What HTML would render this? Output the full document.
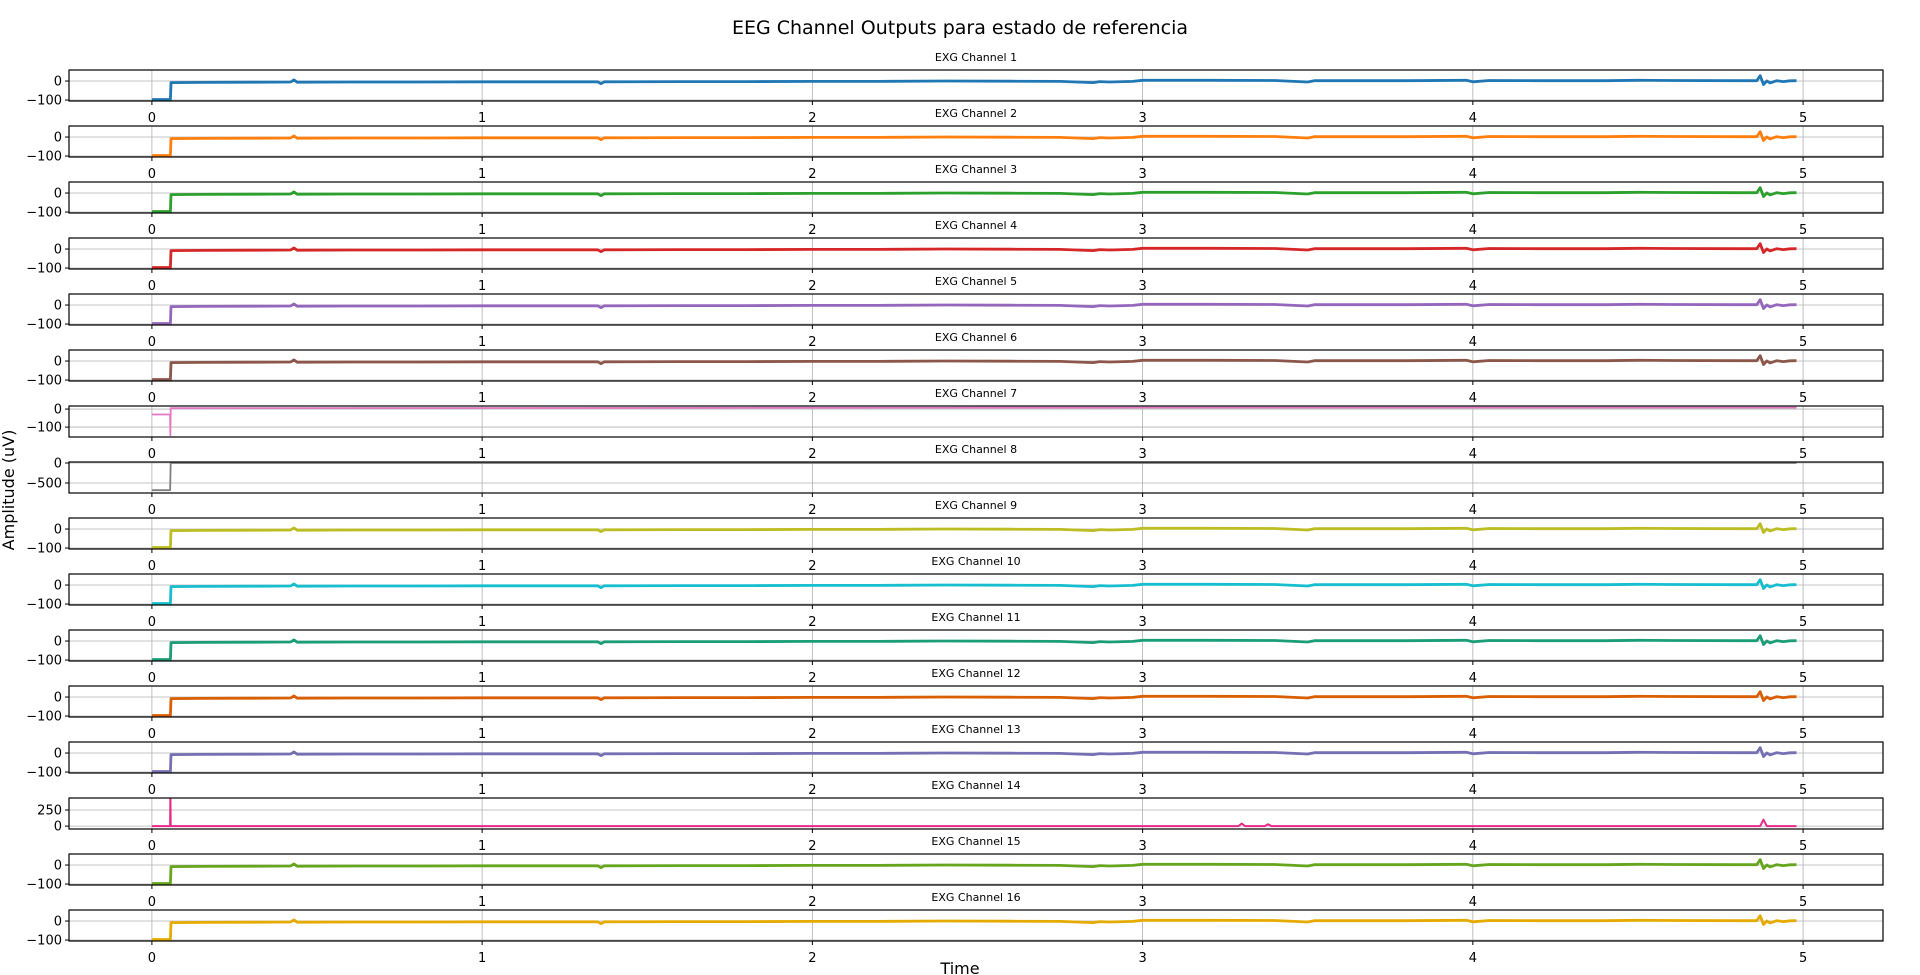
<!DOCTYPE html>
<html><head><meta charset="utf-8"><style>
html,body{margin:0;padding:0;background:#fff;}
svg{display:block;font-family:"DejaVu Sans","Liberation Sans",sans-serif;}
</style></head><body>
<svg id="fig" width="1920" height="975" viewBox="0 0 1920 975">
<text x="960" y="34" font-size="19" text-anchor="middle">EEG Channel Outputs para estado de referencia</text>
<text x="960" y="974" font-size="16" text-anchor="middle">Time</text>
<text transform="translate(14,490) rotate(-90)" font-size="16" text-anchor="middle">Amplitude (uV)</text>
</svg>
<script>
const channelNames = ["EXG Channel 1","EXG Channel 2","EXG Channel 3","EXG Channel 4","EXG Channel 5","EXG Channel 6","EXG Channel 7","EXG Channel 8","EXG Channel 9","EXG Channel 10","EXG Channel 11","EXG Channel 12","EXG Channel 13","EXG Channel 14","EXG Channel 15","EXG Channel 16"];
const channelColors = ["#1f77b4","#ff7f0e","#2ca02c","#d62728","#9467bd","#8c564b","#e377c2","#7f7f7f","#bcbd22","#17becf","#1b9e77","#d95f02","#7570b3","#e7298a","#66a61e","#e6ab02"];
const xTicks = [0,1,2,3,4,5];
const baseTimes = [0,0.056,0.058,0.15,0.3,0.42,0.43,0.44,0.6,0.8,1.0,1.2,1.35,1.36,1.37,1.6,1.8,2.0,2.2,2.4,2.6,2.75,2.85,2.87,2.9,2.97,3.0,3.2,3.4,3.5,3.52,3.6,3.8,3.98,4.0,4.05,4.2,4.4,4.5,4.6,4.8,4.86,4.87,4.88,4.89,4.9,4.92,4.94,4.96,4.98];
const baseValues = [-97,-97,-8,-7,-6,-5,6,-6,-5,-5,-4,-4,-4,-14,-4,-3,-3,-2,-2,0,-1,-2,-8,-3,-5,-2,4,4,3,-5,2,2,2,4,-4,3,2,2,4,3,2,2,28,-18,0,-10,2,-3,1,2];
const ch7Times = [0,0.055,0.056,0.057,0.058,3.0,4.98];
const ch7Values = [-30,-30,-145,5,5,8,8];
const ch8Times = [0,0.055,0.057,4.98];
const ch8Values = [-680,-680,0,0];
const ch14Times = [0,0.055,0.056,0.057,0.058,3.29,3.3,3.31,3.37,3.38,3.39,4.87,4.88,4.89,4.98];
const ch14Values = [0,0,450,0,0,0,40,0,0,30,0,0,100,0,0];
const genericTicks = [-100,0];
const ch7Ticks = [-100,0];
const ch8Ticks = [-500,0];
const ch14Ticks = [0,250];

const svg = document.getElementById('fig');
const NS = 'http://www.w3.org/2000/svg';
const L = 69, R = 1883, T0 = 70, PITCH = 56, H = 31;
const XMIN = -0.251, XMAX = 5.242;
function xs(t){ return L + (t - XMIN) / (XMAX - XMIN) * (R - L); }
function mk(tag, attrs){ const e = document.createElementNS(NS, tag); for (const k in attrs) e.setAttribute(k, attrs[k]); svg.appendChild(e); return e; }

for (let i = 0; i < 16; i++) {
  const top = T0 + PITCH * i, bot = top + H;
  let times = baseTimes, vals = baseValues, ticks = genericTicks, ymin = -105, ymax = 58, sw = 2.8;
  if (i === 6) { times = ch7Times; vals = ch7Values; ticks = ch7Ticks; ymin = -155; ymax = 17; sw = 1.8; }
  if (i === 7) { times = ch8Times; vals = ch8Values; ticks = ch8Ticks; ymin = -750; ymax = 25; sw = 1.8; }
  if (i === 13) { times = ch14Times; vals = ch14Values; ticks = ch14Ticks; ymin = -45; ymax = 437; sw = 2; }
  const ys = v => bot - (v - ymin) / (ymax - ymin) * H;
  const clip = mk('clipPath', {id: 'c' + i});
  const cr = document.createElementNS(NS, 'rect');
  cr.setAttribute('x', L); cr.setAttribute('y', top); cr.setAttribute('width', R - L); cr.setAttribute('height', H);
  clip.appendChild(cr);
  xTicks.forEach(t => {
    const g = mk('line', {x1: xs(t), x2: xs(t), y1: top, y2: bot, stroke: '#b0b0b0', 'stroke-width': 0.8});
    
    
    const tk = mk('line', {x1: xs(t), x2: xs(t), y1: bot, y2: bot + 4, stroke: '#000', 'stroke-width': 1});
    
    
    const lb = mk('text', {x: xs(t), y: bot + 21, 'font-size': 13, 'text-anchor': 'middle'});
    lb.textContent = t;
    
    
  });
  ticks.forEach(v => {
    const g = mk('line', {x1: L, x2: R, y1: ys(v), y2: ys(v), stroke: '#b0b0b0', 'stroke-width': 0.8});
    
    
    const tk = mk('line', {x1: L - 4, x2: L, y1: ys(v), y2: ys(v), stroke: '#000', 'stroke-width': 1});
    
    
    const lb = mk('text', {x: L - 7, y: ys(v) + 4.5, 'font-size': 13, 'text-anchor': 'end'});
    lb.textContent = v < 0 ? '\u2212' + Math.abs(v) : String(v);
    
    
  });
  let d = '';
  times.forEach((t, k) => { d += (k ? 'L' : 'M') + xs(t).toFixed(1) + ',' + ys(vals[k]).toFixed(1); });
  const p = mk('path', {d: d, fill: 'none', stroke: channelColors[i], 'stroke-width': sw, 'clip-path': 'url(#c' + i + ')', 'stroke-linejoin': 'round'});
  
  
  const fr = mk('rect', {x: L, y: top, width: R - L, height: H, fill: 'none', stroke: '#000', 'stroke-width': 1.2});
  
  
  const tt = mk('text', {x: (L + R) / 2, y: top - 9, 'font-size': 11, 'text-anchor': 'middle'});
  tt.textContent = channelNames[i];
  
  
}
</script>
</body></html>
